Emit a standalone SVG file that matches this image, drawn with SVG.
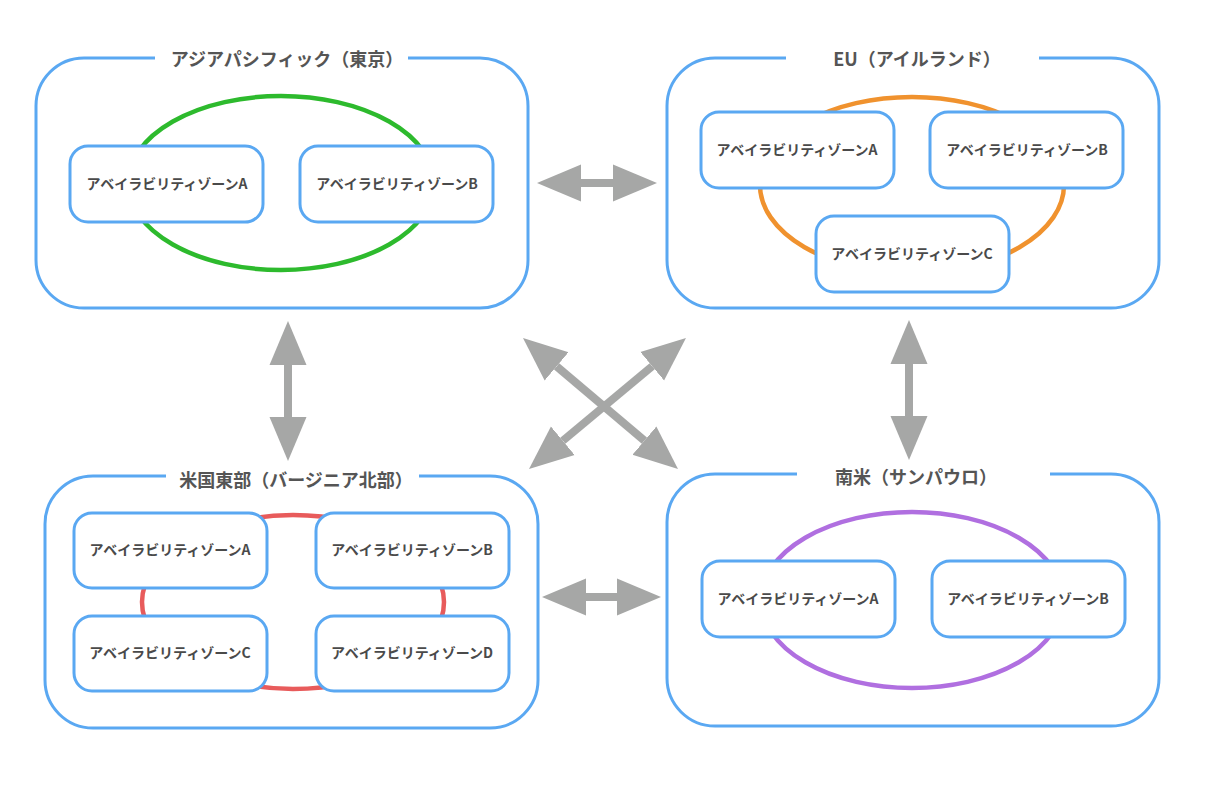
<svg xmlns="http://www.w3.org/2000/svg" width="1207" height="796" viewBox="0 0 1207 796">
<style>
.region{fill:none;stroke:#5aa8f2;stroke-width:3}
.az{fill:#fff;stroke:#5aa8f2;stroke-width:3}
.ring{fill:none;stroke-width:4.5}
.title{font-family:"Noto Sans CJK JP","Liberation Sans",sans-serif;font-size:18px;font-weight:700;fill:#555;text-anchor:middle}
.azt{font-family:"Noto Sans CJK JP","Liberation Sans",sans-serif;font-size:14px;font-weight:700;fill:#4a4a4a;text-anchor:middle}
.arr{stroke:#a6a7a6;stroke-width:8;fill:none;marker-start:url(#head);marker-end:url(#head)}
</style>
<defs>
<marker id="head" markerUnits="userSpaceOnUse" markerWidth="46" markerHeight="40" viewBox="0 -20 46 40" refX="0" refY="0" orient="auto-start-reverse">
<path d="M0,-18.5 L44,0 L0,18.5 Z" fill="#a6a7a6"/>
</marker>
</defs>
<rect width="1207" height="796" fill="#fff"/>

<g id="region-tokyo">
<path class="region" d="M408,58 H480 A48,48 0 0 1 528,106 V260 A48,48 0 0 1 480,308 H84 A48,48 0 0 1 36,260 V106 A48,48 0 0 1 84,58 H155"/>
<text class="title" x="287" y="66">アジアパシフィック（東京）</text>
<ellipse class="ring" cx="281" cy="183" rx="153" ry="87" stroke="#2dba2d"/>
<g id="tokyo-az-a"><rect class="az" x="70" y="146" width="193" height="76" rx="18"/><text class="azt" x="167" y="189">アベイラビリティゾーンA</text></g>
<g id="tokyo-az-b"><rect class="az" x="300" y="146" width="193" height="76" rx="18"/><text class="azt" x="397" y="189">アベイラビリティゾーンB</text></g>
</g>

<g id="region-ireland">
<path class="region" d="M1039,58 H1111 A48,48 0 0 1 1159,106 V260 A48,48 0 0 1 1111,308 H715 A48,48 0 0 1 667,260 V106 A48,48 0 0 1 715,58 H786"/>
<text class="title" x="917" y="66">EU（アイルランド）</text>
<ellipse class="ring" cx="912" cy="185" rx="152" ry="88" stroke="#f0922e"/>
<g id="ireland-az-a"><rect class="az" x="701" y="112" width="193" height="76" rx="18"/><text class="azt" x="797" y="155">アベイラビリティゾーンA</text></g>
<g id="ireland-az-b"><rect class="az" x="930" y="112" width="193" height="76" rx="18"/><text class="azt" x="1027" y="155">アベイラビリティゾーンB</text></g>
<g id="ireland-az-c"><rect class="az" x="816" y="216" width="193" height="76" rx="18"/><text class="azt" x="912" y="259">アベイラビリティゾーンC</text></g>
</g>

<g id="region-virginia">
<path class="region" d="M419,476 H490 A48,48 0 0 1 538,524 V680 A48,48 0 0 1 490,728 H93 A48,48 0 0 1 45,680 V524 A48,48 0 0 1 93,476 H166"/>
<text class="title" x="296" y="487">米国東部（バージニア北部）</text>
<ellipse class="ring" cx="293" cy="602" rx="151" ry="87" stroke="#e85b5b"/>
<g id="virginia-az-a"><rect class="az" x="74" y="513" width="193" height="75" rx="18"/><text class="azt" x="170" y="555">アベイラビリティゾーンA</text></g>
<g id="virginia-az-b"><rect class="az" x="316" y="513" width="193" height="75" rx="18"/><text class="azt" x="412" y="555">アベイラビリティゾーンB</text></g>
<g id="virginia-az-c"><rect class="az" x="74" y="616" width="193" height="75" rx="18"/><text class="azt" x="170" y="658">アベイラビリティゾーンC</text></g>
<g id="virginia-az-d"><rect class="az" x="316" y="616" width="193" height="75" rx="18"/><text class="azt" x="412" y="658">アベイラビリティゾーンD</text></g>
</g>

<g id="region-saopaulo">
<path class="region" d="M1050,474 H1111 A48,48 0 0 1 1159,522 V678 A48,48 0 0 1 1111,726 H715 A48,48 0 0 1 667,678 V522 A48,48 0 0 1 715,474 H797"/>
<text class="title" x="916" y="484">南米（サンパウロ）</text>
<ellipse class="ring" cx="912" cy="600" rx="151" ry="88" stroke="#b06fe0"/>
<g id="saopaulo-az-a"><rect class="az" x="702" y="561" width="193" height="76" rx="18"/><text class="azt" x="798" y="604">アベイラビリティゾーンA</text></g>
<g id="saopaulo-az-b"><rect class="az" x="932" y="561" width="193" height="76" rx="18"/><text class="azt" x="1028" y="604">アベイラビリティゾーンB</text></g>
</g>

<g id="connectors">
<line class="arr" x1="581" y1="183" x2="613" y2="183"/>
<line class="arr" x1="586" y1="597" x2="617" y2="597"/>
<line class="arr" x1="288" y1="365" x2="288" y2="417"/>
<line class="arr" x1="909" y1="364" x2="909" y2="416"/>
<line class="arr" x1="556.6" y1="366.4" x2="644.4" y2="440.6"/>
<line class="arr" x1="652.2" y1="366.2" x2="562.8" y2="440.8"/>
</g>
</svg>
